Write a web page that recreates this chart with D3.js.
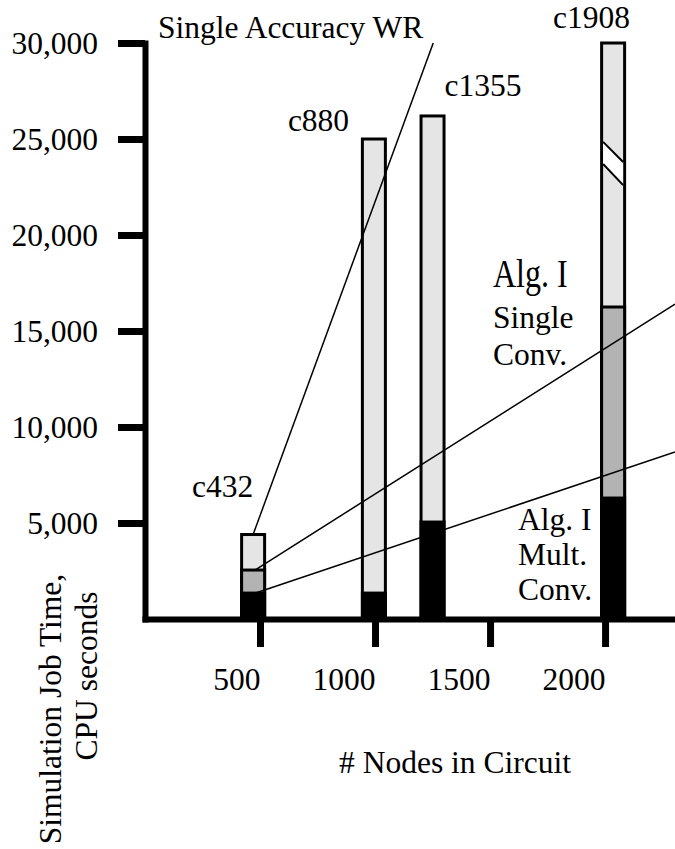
<!DOCTYPE html>
<html>
<head>
<meta charset="utf-8">
<script src="https://cdn.jsdelivr.net/npm/d3@7"></script>
<style>
  body { margin: 0; background: #fff; }
  svg { display: block; }
</style>
</head>
<body>
<svg id="chart" width="675" height="849"></svg>
<script>
// data
const circuits = ["c432", "c880", "c1355", "c1908"];
const nodeCounts = [470, 995, 1250, 2035];
const multConv = [1350, 1350, 5050, 6300];      // Alg. I multiple convergence (black)
const singleConv = [2550, null, null, 16250];   // Alg. I single convergence (mid grey)
const singleWR = [4400, 25000, 26200, 30000];   // single accuracy WR (light grey)
const yTicks = [5000, 10000, 15000, 20000, 25000, 30000];
const xTicks = [500, 1000, 1500, 2000];

// guide lines, [nodes, seconds]
const wrLine = [[470, 4400], [1253, 30000]];
const singleLine = [[478, 2550], [2304, 16400]];
const multLine = [[481, 1350], [2304, 8700]];

// scale break on c1908 bar: values at left / right edge
const breakUpper = [24850, 23800];
const breakLower = [23700, 22600];

const FONT = "Liberation Serif";
const fontSize = 31.5;

const svg = d3.select("#chart").attr("font-family", FONT);

const x = d3.scaleLinear().domain([0, 2304]).range([145, 675]);
const y = d3.scaleLinear().domain([0, 30000]).range([619, 43]);
const barW = 23;

const bars = circuits.map((c, i) => ({
  name: c, n: nodeCounts[i], mult: multConv[i], single: singleConv[i], wr: singleWR[i]
}));

// bars: light grey total, mid grey single conv, black mult conv
const g = svg.append("g");
g.selectAll(".wr").data(bars).enter().append("rect")
  .attr("x", d => x(d.n) - barW / 2)
  .attr("y", d => y(d.wr))
  .attr("width", barW)
  .attr("height", d => y(0) - y(d.wr))
  .attr("fill", "#e5e5e5").attr("stroke", "#000").attr("stroke-width", 3);

g.selectAll(".sc").data(bars.filter(d => d.single != null)).enter().append("rect")
  .attr("x", d => x(d.n) - barW / 2)
  .attr("y", d => y(d.single))
  .attr("width", barW)
  .attr("height", d => y(0) - y(d.single))
  .attr("fill", "#b3b3b3").attr("stroke", "#000").attr("stroke-width", 3);

g.selectAll(".mc").data(bars).enter().append("rect")
  .attr("x", d => x(d.n) - barW / 2)
  .attr("y", d => y(d.mult))
  .attr("width", barW)
  .attr("height", d => y(0) - y(d.mult))
  .attr("fill", "#000").attr("stroke", "#000").attr("stroke-width", 3);

// break mark on the c1908 bar
const bb = bars[3];
const bx0 = x(bb.n) - barW / 2 + 1.5, bx1 = x(bb.n) + barW / 2 - 1.5;
g.append("polygon")
  .attr("points", [
    [bx0, y(breakUpper[0])], [bx1, y(breakUpper[1])],
    [bx1, y(breakLower[1])], [bx0, y(breakLower[0])]
  ].map(p => p.join(",")).join(" "))
  .attr("fill", "#fff");
[breakUpper, breakLower].forEach(b => {
  g.append("line")
    .attr("x1", bx0).attr("y1", y(b[0]))
    .attr("x2", bx1).attr("y2", y(b[1]))
    .attr("stroke", "#000").attr("stroke-width", 2);
});

// guide lines
const line = d3.line().x(d => x(d[0])).y(d => y(d[1]));
[wrLine, singleLine, multLine].forEach(l => {
  g.append("path").attr("d", line(l))
    .attr("fill", "none").attr("stroke", "#000").attr("stroke-width", 1.5);
});

// axes
const yAxis = svg.append("g")
  .attr("transform", `translate(${x(0)},0)`)
  .call(d3.axisLeft(y).tickValues(yTicks).tickFormat(d3.format(","))
    .tickSize(27).tickPadding(20).tickSizeOuter(0));
yAxis.select(".domain").attr("stroke-width", 6).attr("stroke-linecap", "square");
yAxis.selectAll(".tick line").attr("stroke-width", 7);
yAxis.selectAll("text").attr("font-family", FONT).attr("font-size", fontSize).attr("fill", "#000");

const xAxis = svg.append("g")
  .attr("transform", `translate(0,${y(0)})`)
  .call(d3.axisBottom(x).tickValues(xTicks).tickFormat(d3.format("d"))
    .tickSize(28).tickSizeOuter(0));
xAxis.select(".domain").attr("stroke-width", 6).attr("stroke-linecap", "square");
xAxis.selectAll(".tick line").attr("stroke-width", 7);
xAxis.selectAll("text").attr("font-family", FONT).attr("font-size", fontSize).attr("fill", "#000")
  .attr("text-anchor", "end").attr("x", 0).attr("y", 71).attr("dy", null);

// circuit labels (offsets from bar centre / top)
const labelOff = [[-61, -38], [-86, -8], [12, -20], [-60, -15]];
svg.selectAll(".clabel").data(bars).enter().append("text")
  .attr("x", (d, i) => x(d.n) + labelOff[i][0])
  .attr("y", (d, i) => y(d.wr) + labelOff[i][1])
  .attr("font-family", FONT).attr("font-size", fontSize)
  .text(d => d.name);

// annotations
const notes = [
  ["Single Accuracy WR", 158, 38],
  ["Single", 493, 328],
  ["Conv.", 493, 365],
  ["Alg. I", 518, 530],
  ["Mult.", 518, 565],
  ["Conv.", 518, 600]
];
notes.forEach(n => {
  svg.append("text").attr("x", n[1]).attr("y", n[2])
    .attr("font-family", FONT).attr("font-size", fontSize).text(n[0]);
});
svg.append("text")
  .attr("transform", "translate(493,287) scale(0.8,1)")
  .attr("font-family", FONT).attr("font-size", 40).text("Alg. I");

svg.append("text").attr("x", 455).attr("y", 773)
  .attr("text-anchor", "middle").attr("font-family", FONT).attr("font-size", fontSize)
  .text("# Nodes in Circuit");

svg.append("text")
  .attr("transform", "translate(61,709) rotate(-90)")
  .attr("text-anchor", "middle").attr("font-family", FONT).attr("font-size", fontSize)
  .text("Simulation Job Time,");
svg.append("text")
  .attr("transform", "translate(97,676) rotate(-90)")
  .attr("text-anchor", "middle").attr("font-family", FONT).attr("font-size", fontSize)
  .text("CPU seconds");
</script>
</body>
</html>
